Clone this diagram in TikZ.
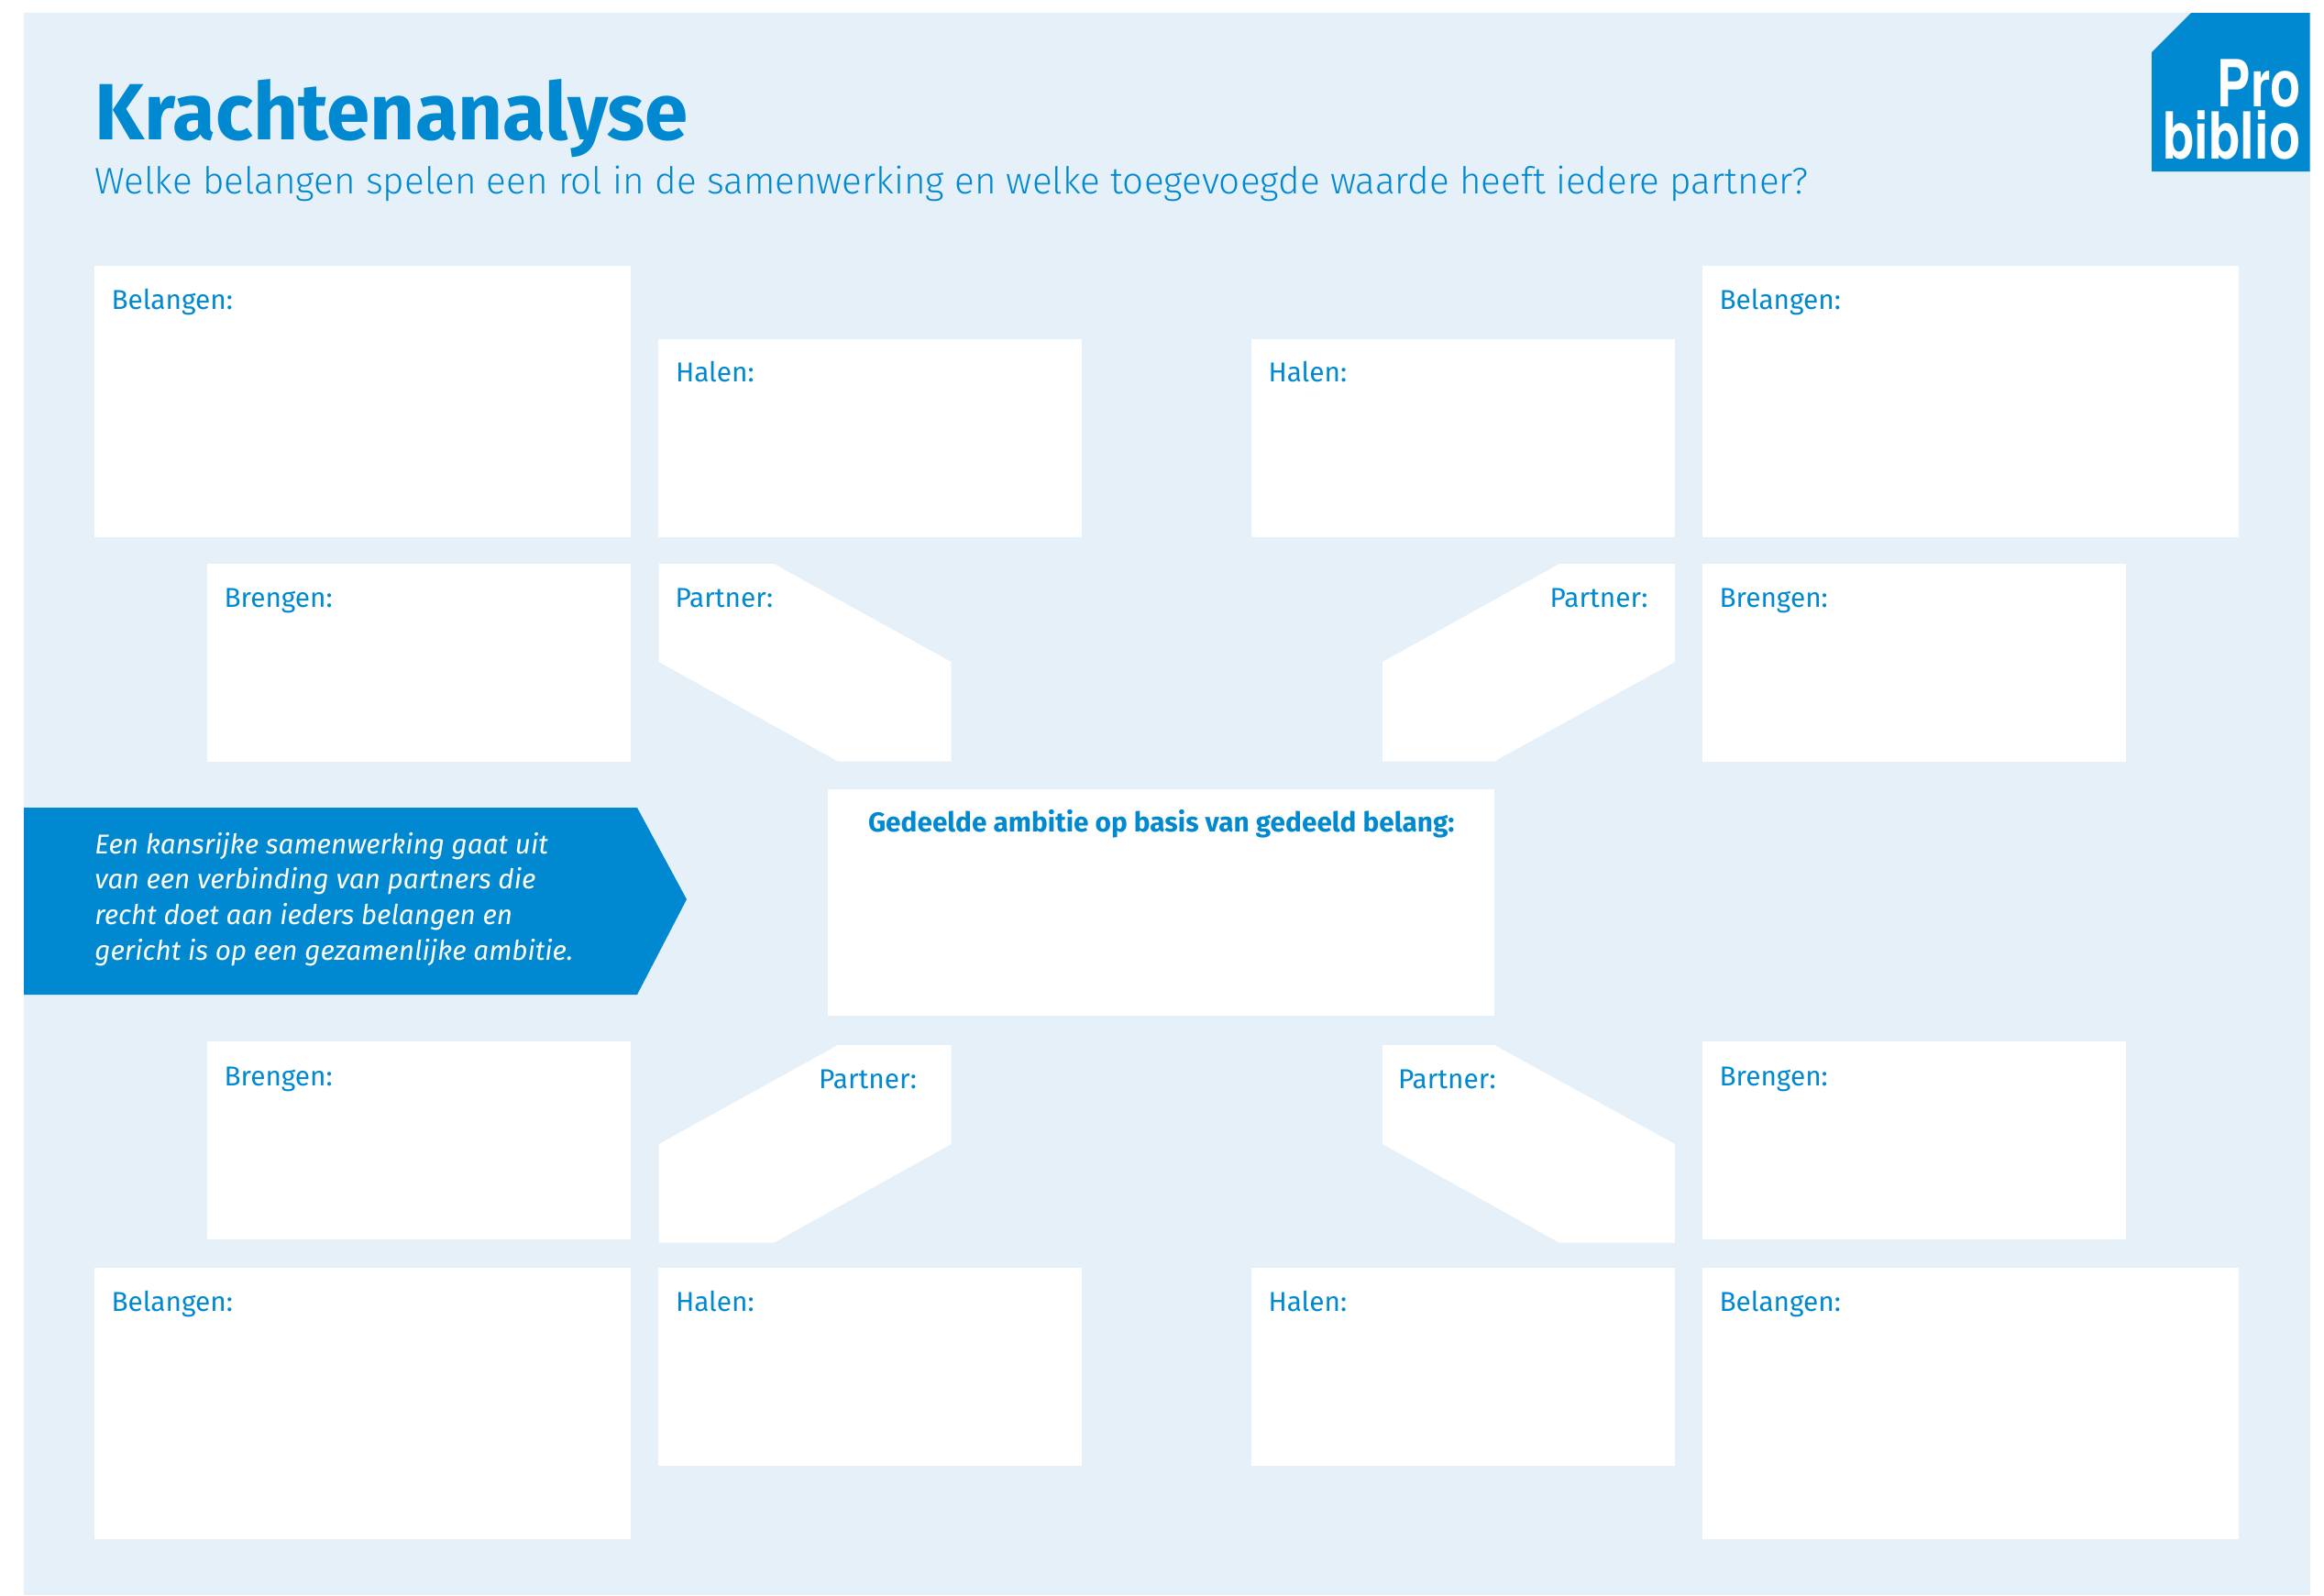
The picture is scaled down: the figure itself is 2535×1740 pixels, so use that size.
\documentclass[tikz,border=0pt]{standalone}
\usepackage{graphicx}
\usepackage{fontspec}
\setmainfont{Fira Sans}
\newfontfamily\lightfont{Fira Sans Light}
\newfontfamily\logofont{TeX Gyre Heros}
\definecolor{pblue}{HTML}{0089D0}
\definecolor{pbg}{HTML}{E5F0F9}
\tikzset{
  wbox/.style={fill=white,draw=none},
  lbl/.style={anchor=base west,inner sep=0pt,outer sep=0pt,text=pblue,font=\fontsize{14.9pt}{18pt}\selectfont},
  lblr/.style={lbl,anchor=base east},
  arrowline/.style={anchor=base west,inner sep=0pt,text=white,font=\itshape\fontsize{14.85pt}{18pt}\selectfont},
  logoline/.style={anchor=base east,inner sep=0pt,text=white,font=\logofont\bfseries\fontsize{35.4pt}{36pt}\selectfont},
}
\begin{document}
\begin{tikzpicture}[x=0.5pt,y=-0.5pt]
\useasboundingbox (0,0) rectangle (2535,1740);
\fill[white] (0,0) rectangle (2535,1740);
\fill[pbg] (26,14) rectangle (2519.5,1740);
% logo
\fill[pblue] (2347,57) -- (2390,14) -- (2519.5,14) -- (2519.5,187) -- (2347,187) -- cycle;
\node[logoline] (logoa) at (2510,116) {\scalebox{0.77}[1]{Pro}};
\node[logoline] (logob) at (2510,173) {\scalebox{0.795}[1]{biblio}};
% title
\node[anchor=base west,inner sep=0pt,text=pblue] (title) at (103,152) {\fontsize{43.5pt}{50pt}\selectfont\bfseries\scalebox{0.98}[1]{Krachtenanalyse}};
\node[anchor=base west,inner sep=0pt,text=pblue] (sub) at (103,211) {\lightfont\fontsize{20.2pt}{26pt}\selectfont Welke belangen spelen een rol in de samenwerking en welke toegevoegde waarde heeft iedere partner?};
% boxes
\fill[wbox] (103,290) rectangle (688,586);
\fill[wbox] (718,370) rectangle (1180,586);
\fill[wbox] (1365,370) rectangle (1827,586);
\fill[wbox] (1857,290) rectangle (2442,586);
\fill[wbox] (226,615) rectangle (688,831);
\fill[wbox] (1857,615) rectangle (2319,831);
\fill[wbox] (718.7,615) -- (844,615) -- (1037.5,722) -- (1037.5,830.5) -- (914,830.5) -- (718.7,722) -- cycle;
\fill[wbox] (1827,615) -- (1701,615) -- (1508,722) -- (1508,830.5) -- (1630,830.5) -- (1827,722) -- cycle;
\fill[wbox] (903,861) rectangle (1630,1107.7);
\fill[wbox] (226,1136) rectangle (688,1352);
\fill[wbox] (1857,1136) rectangle (2319,1352);
\fill[wbox] (1037.5,1140) -- (914,1140) -- (718.7,1248) -- (718.7,1355.7) -- (844,1355.7) -- (1037.5,1248) -- cycle;
\fill[wbox] (1508,1140) -- (1630,1140) -- (1827,1248) -- (1827,1355.7) -- (1701,1355.7) -- (1508,1248) -- cycle;
\fill[wbox] (103,1382.7) rectangle (688,1679);
\fill[wbox] (718,1382.7) rectangle (1180,1599);
\fill[wbox] (1365,1382.7) rectangle (1827,1599);
\fill[wbox] (1857,1382.7) rectangle (2442,1679);
% arrow
\fill[pblue] (26,881) -- (695,881) -- (749,981) -- (695,1085) -- (26,1085) -- cycle;
\node[arrowline] (ar1) at (103,931) {Een kansrijke samenwerking gaat uit};
\node[arrowline] (ar2) at (103,969.5) {van een verbinding van partners die};
\node[arrowline] (ar3) at (103,1008) {recht doet aan ieders belangen en};
\node[arrowline] (ar4) at (103,1047) {gericht is op een gezamenlijke ambitie.};
% labels
\node[lbl] (b1) at (121.5,337) {Belangen:};
\node[lbl] (h1) at (737,416) {Halen:};
\node[lbl] (h2) at (1383.5,416) {Halen:};
\node[lbl] (b2) at (1875.5,337) {Belangen:};
\node[lbl] (g1) at (244.5,662) {Brengen:};
\node[lbl] (g2) at (1875.5,662) {Brengen:};
\node[lbl] (p1) at (736.5,662) {Partner:};
\node[lblr] (p2) at (1797.5,662) {Partner:};
\node[lbl] (c) at (947,907.5) {\bfseries Gedeelde ambitie op basis van gedeeld belang:};
\node[lbl] (g3) at (244.5,1184) {Brengen:};
\node[lbl] (g4) at (1875.5,1184) {Brengen:};
\node[lblr] (p3) at (1000,1187.7) {Partner:};
\node[lbl] (p4) at (1525,1187.7) {Partner:};
\node[lbl] (b3) at (121.5,1430) {Belangen:};
\node[lbl] (h3) at (737,1430) {Halen:};
\node[lbl] (h4) at (1383.5,1430) {Halen:};
\node[lbl] (b4) at (1875.5,1430) {Belangen:};
\end{tikzpicture}
\end{document}
